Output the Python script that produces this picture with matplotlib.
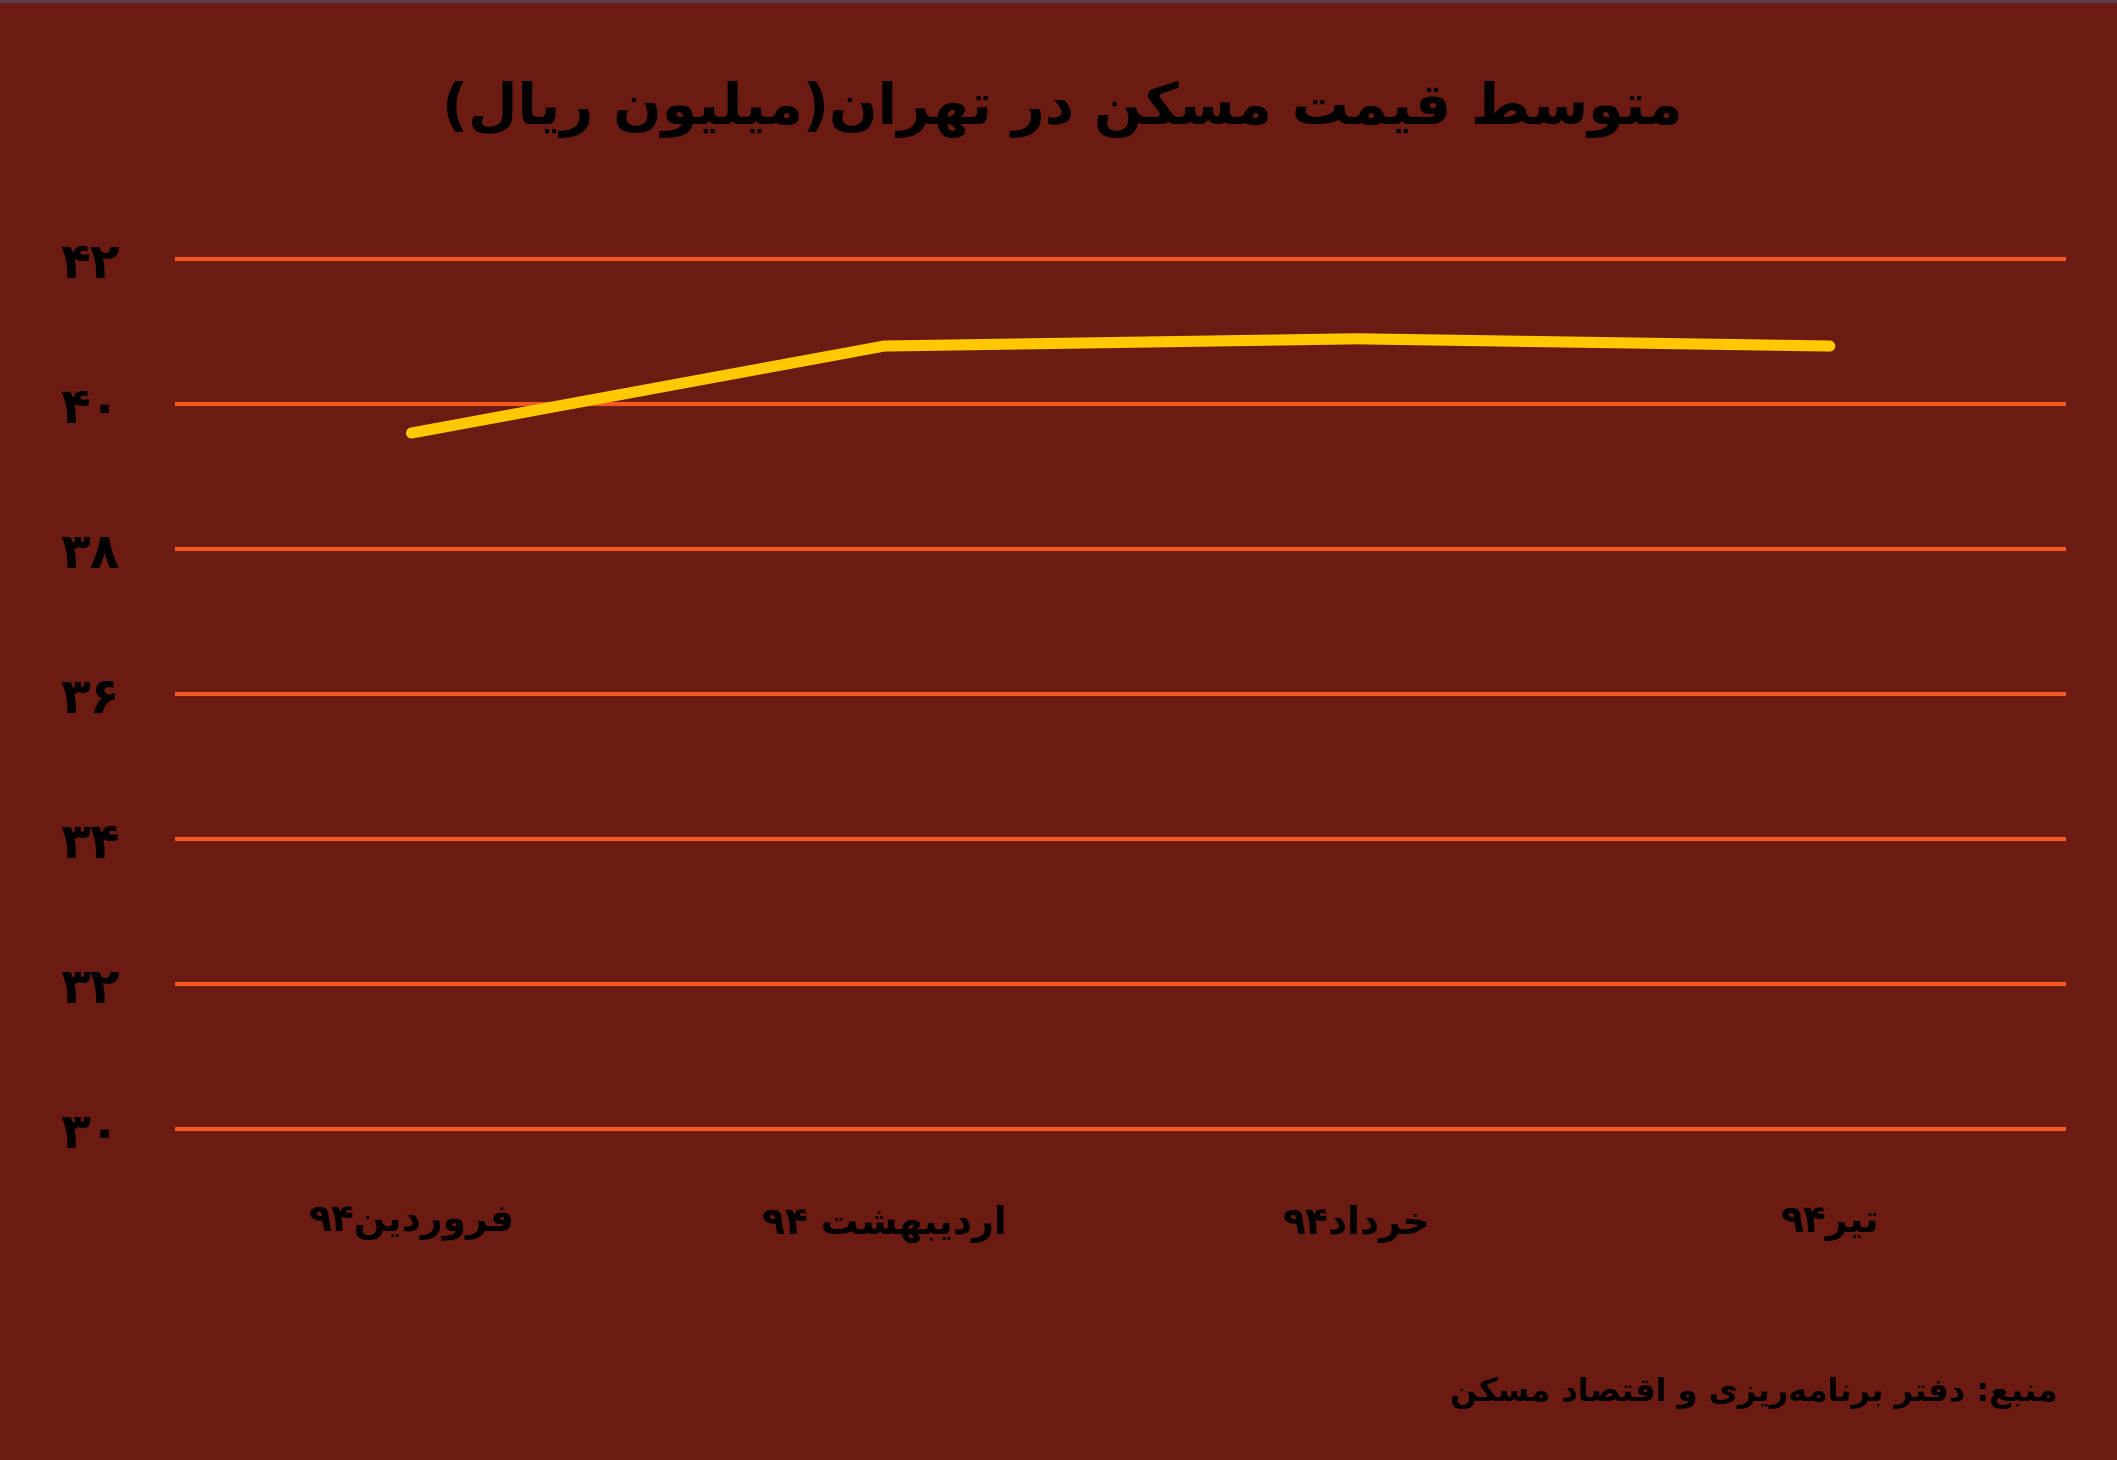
import matplotlib
matplotlib.use('Agg')
import matplotlib.pyplot as plt
from matplotlib.lines import Line2D

# chart data
title = 'متوسط قیمت مسکن در تهران(میلیون ریال)'
months = ['فروردین۹۴', 'اردیبهشت ۹۴', 'خرداد۹۴', 'تیر۹۴']
prices = [39.6, 40.8, 40.9, 40.8]
y_ticks = [30, 32, 34, 36, 38, 40, 42]
source = 'منبع: دفتر برنامه\u200cریزی و اقتصاد مسکن'

BG = '#6b1b12'
GRID = '#f25a22'
LINE = '#ffc800'

# tiny arabic/persian shaper: (isolated, final, initial, medial)
FORMS = {
    'ا': ('\uFE8D', '\uFE8E', None, None),
    'ب': ('\uFE8F', '\uFE90', '\uFE91', '\uFE92'),
    'ت': ('\uFE95', '\uFE96', '\uFE97', '\uFE98'),
    'خ': ('\uFEA5', '\uFEA6', '\uFEA7', '\uFEA8'),
    'د': ('\uFEA9', '\uFEAA', None, None),
    'ر': ('\uFEAD', '\uFEAE', None, None),
    'ز': ('\uFEAF', '\uFEB0', None, None),
    'س': ('\uFEB1', '\uFEB2', '\uFEB3', '\uFEB4'),
    'ش': ('\uFEB5', '\uFEB6', '\uFEB7', '\uFEB8'),
    'ص': ('\uFEB9', '\uFEBA', '\uFEBB', '\uFEBC'),
    'ط': ('\uFEC1', '\uFEC2', '\uFEC3', '\uFEC4'),
    'ع': ('\uFEC9', '\uFECA', '\uFECB', '\uFECC'),
    'ف': ('\uFED1', '\uFED2', '\uFED3', '\uFED4'),
    'ق': ('\uFED5', '\uFED6', '\uFED7', '\uFED8'),
    'ل': ('\uFEDD', '\uFEDE', '\uFEDF', '\uFEE0'),
    'م': ('\uFEE1', '\uFEE2', '\uFEE3', '\uFEE4'),
    'ن': ('\uFEE5', '\uFEE6', '\uFEE7', '\uFEE8'),
    'ه': ('\uFEE9', '\uFEEA', '\uFEEB', '\uFEEC'),
    'و': ('\uFEED', '\uFEEE', None, None),
    'ی': ('\uFBFC', '\uFBFD', '\uFBFE', '\uFBFF'),
    'ک': ('\uFB8E', '\uFB8F', '\uFB90', '\uFB91'),
}
MIRROR = {'(': ')', ')': '('}


def is_digit(c):
    return '0' <= c <= '9' or '\u06F0' <= c <= '\u06F9'


def shape(text):
    out = []
    for i, c in enumerate(text):
        if c not in FORMS:
            if c != '\u200c':
                out.append(c)
            continue
        prev = text[i - 1] if i > 0 else ''
        nxt = text[i + 1] if i + 1 < len(text) else ''
        join_prev = prev in FORMS and FORMS[prev][2] is not None
        join_next = nxt in FORMS and FORMS[c][2] is not None
        iso, fin, ini, med = FORMS[c]
        if join_prev and join_next:
            out.append(med)
        elif join_prev:
            out.append(fin)
        elif join_next:
            out.append(ini)
        else:
            out.append(iso)
    return ''.join(out)


def fa(text):
    # shape, then put the runs in visual (right-to-left) order
    s = shape(text)
    runs = []
    for c in s:
        kind = is_digit(c)
        if runs and runs[-1][0] == kind:
            runs[-1][1].append(c)
        else:
            runs.append((kind, [c]))
    vis = []
    for kind, chars in reversed(runs):
        if kind:
            vis.append(''.join(chars))
        else:
            vis.append(''.join(MIRROR.get(c, c) for c in reversed(chars)))
    return ''.join(vis)


def fa_num(n):
    return fa(str(n).translate(str.maketrans('0123456789', '۰۱۲۳۴۵۶۷۸۹')))


plt.rcParams['font.family'] = ['DejaVu Sans']
plt.rcParams['font.weight'] = 'bold'

fig = plt.figure(figsize=(21.17, 14.60), dpi=100, facecolor=BG)
ax = fig.add_axes([0.0827, 0.2168, 0.8933, 0.6157], facecolor=BG)

x = list(range(len(months)))
ax.plot(x, prices, color=LINE, lw=8, solid_capstyle='round',
        solid_joinstyle='round', zorder=3)

ax.set_xlim(-0.5, len(months) - 0.5)
ax.set_ylim(29.8, 42.2)
ax.set_yticks(y_ticks)
ax.set_yticklabels([fa_num(v) for v in y_ticks], fontsize=35,
                   fontweight='bold', color='black')
ax.set_xticks(x)
ax.set_xticklabels([fa(m) for m in months], fontsize=27,
                   fontweight='bold', color='black')
ax.tick_params(axis='y', length=0, pad=40)
ax.tick_params(axis='x', length=0, pad=44)
ax.grid(axis='y', color=GRID, lw=3)
ax.set_axisbelow(True)
for sp in ax.spines.values():
    sp.set_visible(False)

fig.text(0.502, 0.925, fa(title), fontsize=41, fontweight='bold',
         ha='center', va='center', color='black')
fig.text(0.972, 0.046, fa(source), fontsize=23, fontweight='bold',
         ha='right', va='center', color='black')

# thin strip at the very top
fig.add_artist(Line2D([0, 1], [0.999, 0.999], transform=fig.transFigure,
                      color='#5b3b4b', lw=2.5))

fig.savefig('out.png', dpi=100, facecolor=BG)
